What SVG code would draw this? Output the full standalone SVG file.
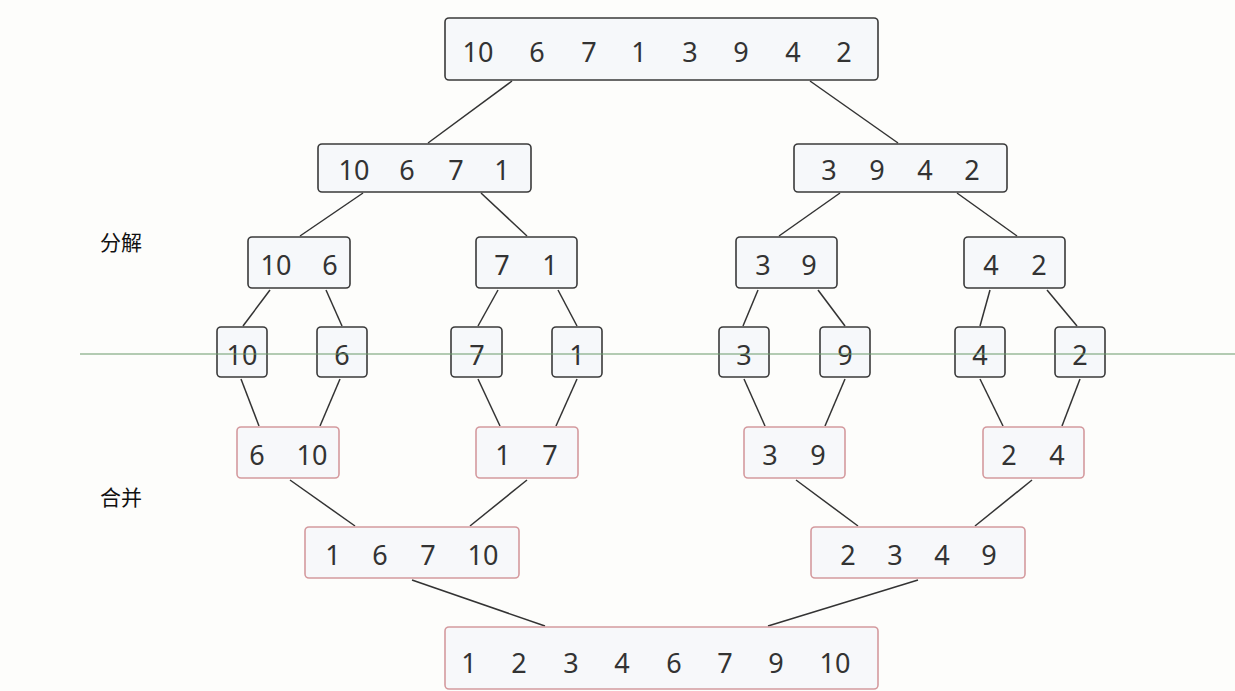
<svg xmlns="http://www.w3.org/2000/svg" width="1235" height="691" viewBox="0 0 1235 691">
<style>
.bx{fill:#f6f8fa;stroke:#3a3a3a;stroke-width:1.6}
.pk{fill:#f7f8fa;stroke:#d49a9e;stroke-width:1.6}
.t{font-family:"Noto Sans","Liberation Sans",sans-serif;font-size:27px;fill:#333;text-anchor:middle}
.lb{font-family:"Noto Sans CJK SC",sans-serif;font-size:21px;fill:#111}
.c line{stroke:#333;stroke-width:1.5}
</style>
<rect width="1235" height="691" fill="#fdfdfb"/>
<g class="c" id="connectors">
<line x1="512" y1="81" x2="428" y2="143"/>
<line x1="810" y1="81" x2="898" y2="143"/>
<line x1="363" y1="193" x2="300" y2="236"/>
<line x1="481" y1="193" x2="527" y2="236"/>
<line x1="840" y1="193" x2="779" y2="236"/>
<line x1="957" y1="193" x2="1017" y2="236"/>
<line x1="270" y1="290" x2="243" y2="326"/>
<line x1="326" y1="290" x2="342" y2="326"/>
<line x1="498" y1="290" x2="478" y2="326"/>
<line x1="558" y1="290" x2="577" y2="326"/>
<line x1="758" y1="290" x2="743" y2="326"/>
<line x1="818" y1="290" x2="845" y2="326"/>
<line x1="990" y1="290" x2="980" y2="326"/>
<line x1="1047" y1="290" x2="1077" y2="326"/>
<line x1="241" y1="379" x2="259" y2="426"/>
<line x1="340" y1="379" x2="320" y2="426"/>
<line x1="478" y1="379" x2="500" y2="426"/>
<line x1="577" y1="379" x2="556" y2="426"/>
<line x1="744" y1="379" x2="765" y2="426"/>
<line x1="845" y1="379" x2="825" y2="426"/>
<line x1="980" y1="379" x2="1003" y2="426"/>
<line x1="1080" y1="379" x2="1062" y2="426"/>
<line x1="290" y1="480" x2="355" y2="526"/>
<line x1="527" y1="480" x2="470" y2="526"/>
<line x1="796" y1="480" x2="858" y2="526"/>
<line x1="1032" y1="480" x2="975" y2="526"/>
<line x1="412" y1="580" x2="545" y2="626"/>
<line x1="918" y1="580" x2="768" y2="626"/>
</g>
<g id="n0"><rect class="bx" x="445" y="18" width="433" height="62" rx="4"/>
<text class="t" y="62"><tspan x="478">10</tspan><tspan x="537">6</tspan><tspan x="589">7</tspan><tspan x="639">1</tspan><tspan x="690">3</tspan><tspan x="741">9</tspan><tspan x="793">4</tspan><tspan x="844">2</tspan></text></g>
<g id="n1"><rect class="bx" x="318" y="144" width="213" height="48" rx="4"/>
<text class="t" y="180"><tspan x="354">10</tspan><tspan x="407">6</tspan><tspan x="456">7</tspan><tspan x="502">1</tspan></text></g>
<g id="n2"><rect class="bx" x="794" y="144" width="213" height="48" rx="4"/>
<text class="t" y="180"><tspan x="829">3</tspan><tspan x="877">9</tspan><tspan x="925">4</tspan><tspan x="972">2</tspan></text></g>
<g id="n3"><rect class="bx" x="248" y="237" width="102" height="51" rx="4"/>
<text class="t" y="275"><tspan x="276">10</tspan><tspan x="330">6</tspan></text></g>
<g id="n4"><rect class="bx" x="476" y="237" width="101" height="51" rx="4"/>
<text class="t" y="275"><tspan x="502">7</tspan><tspan x="550">1</tspan></text></g>
<g id="n5"><rect class="bx" x="736" y="237" width="101" height="51" rx="4"/>
<text class="t" y="275"><tspan x="763">3</tspan><tspan x="809">9</tspan></text></g>
<g id="n6"><rect class="bx" x="964" y="237" width="101" height="51" rx="4"/>
<text class="t" y="275"><tspan x="991">4</tspan><tspan x="1039">2</tspan></text></g>
<g id="n7"><rect class="bx" x="217" y="327" width="50" height="50" rx="4"/><text class="t" x="242" y="365">10</text></g>
<g id="n8"><rect class="bx" x="317" y="327" width="50" height="50" rx="4"/><text class="t" x="342" y="365">6</text></g>
<g id="n9"><rect class="bx" x="451" y="327" width="51" height="50" rx="4"/><text class="t" x="477" y="365">7</text></g>
<g id="n10"><rect class="bx" x="552" y="327" width="50" height="50" rx="4"/><text class="t" x="577" y="365">1</text></g>
<g id="n11"><rect class="bx" x="719" y="327" width="50" height="50" rx="4"/><text class="t" x="744" y="365">3</text></g>
<g id="n12"><rect class="bx" x="820" y="327" width="50" height="50" rx="4"/><text class="t" x="845" y="365">9</text></g>
<g id="n13"><rect class="bx" x="955" y="327" width="50" height="50" rx="4"/><text class="t" x="980" y="365">4</text></g>
<g id="n14"><rect class="bx" x="1055" y="327" width="50" height="50" rx="4"/><text class="t" x="1080" y="365">2</text></g>
<line x1="80" y1="354" x2="1235" y2="354" stroke="#6a9a6a" stroke-width="1.2"/>
<g id="n15"><rect class="pk" x="237" y="427" width="102" height="51" rx="4"/>
<text class="t" y="465"><tspan x="257">6</tspan><tspan x="312">10</tspan></text></g>
<g id="n16"><rect class="pk" x="476" y="427" width="102" height="51" rx="4"/>
<text class="t" y="465"><tspan x="503">1</tspan><tspan x="550">7</tspan></text></g>
<g id="n17"><rect class="pk" x="744" y="427" width="101" height="51" rx="4"/>
<text class="t" y="465"><tspan x="770">3</tspan><tspan x="818">9</tspan></text></g>
<g id="n18"><rect class="pk" x="983" y="427" width="101" height="51" rx="4"/>
<text class="t" y="465"><tspan x="1009">2</tspan><tspan x="1057">4</tspan></text></g>
<g id="n19"><rect class="pk" x="305" y="527" width="214" height="51" rx="4"/>
<text class="t" y="565"><tspan x="333">1</tspan><tspan x="380">6</tspan><tspan x="428">7</tspan><tspan x="483">10</tspan></text></g>
<g id="n20"><rect class="pk" x="811" y="527" width="214" height="51" rx="4"/>
<text class="t" y="565"><tspan x="848">2</tspan><tspan x="895">3</tspan><tspan x="942">4</tspan><tspan x="989">9</tspan></text></g>
<g id="n21"><rect class="pk" x="445" y="627" width="433" height="62" rx="4"/>
<text class="t" y="673"><tspan x="469">1</tspan><tspan x="519">2</tspan><tspan x="571">3</tspan><tspan x="622">4</tspan><tspan x="674">6</tspan><tspan x="725">7</tspan><tspan x="776">9</tspan><tspan x="835">10</tspan></text></g>
<text class="lb" x="100" y="250">分解</text>
<text class="lb" x="100" y="505">合并</text>
</svg>
